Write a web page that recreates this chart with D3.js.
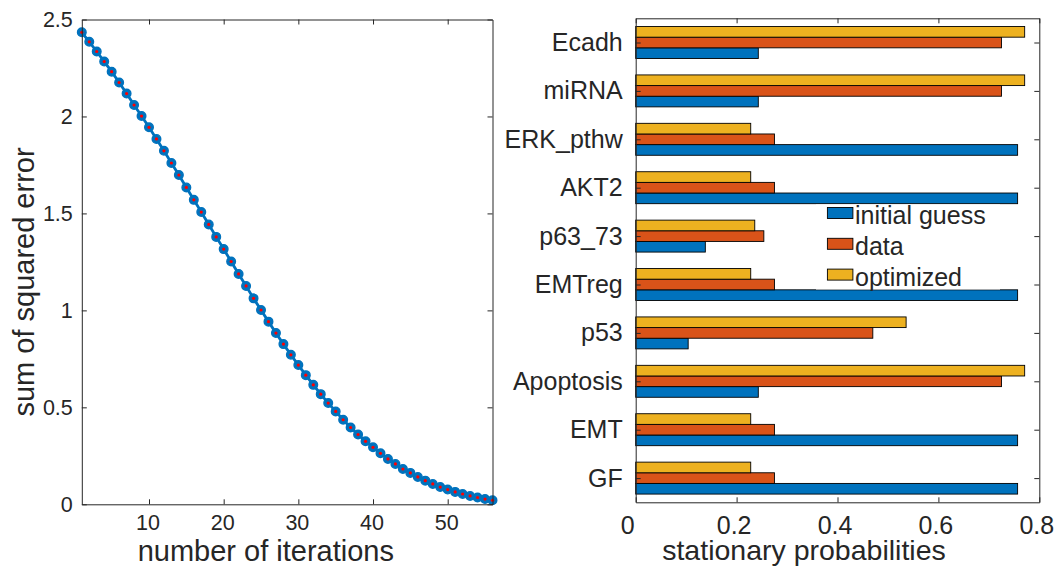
<!DOCTYPE html>
<html><head><meta charset="utf-8">
<script src="https://cdn.jsdelivr.net/npm/d3@7"></script>
<style>
body{margin:0;background:#fff}
svg{display:block}
text{font-family:"Liberation Sans",Arial,Helvetica,sans-serif;fill:#262626}
</style>
</head><body>
<svg id="c" width="1056" height="566"></svg>
<script>
// ---- Data ----
const sqError = [2.434,2.385,2.335,2.283,2.231,2.175,2.118,2.059,2.002,1.944,
  1.884,1.823,1.760,1.698,1.634,1.570,1.507,1.443,1.379,1.316,
  1.252,1.188,1.126,1.062,1.002,0.942,0.883,0.826,0.771,0.718,
  0.666,0.616,0.568,0.522,0.479,0.436,0.396,0.360,0.325,0.294,
  0.263,0.234,0.208,0.182,0.162,0.141,0.122,0.105,0.089,0.076,
  0.064,0.053,0.043,0.035,0.027,0.021];
const iterTicks = [10,20,30,40,50];
const errTicks = [0,0.5,1,1.5,2,2.5];
const categories = ["GF","EMT","Apoptosis","p53","EMTreg","p63_73","AKT2","ERK_pthw","miRNA","Ecadh"];
const initialGuess = [0.757,0.757,0.243,0.104,0.757,0.138,0.757,0.757,0.243,0.243];
const dataVals     = [0.275,0.275,0.725,0.470,0.275,0.254,0.275,0.275,0.725,0.725];
const optimized    = [0.228,0.228,0.771,0.536,0.228,0.236,0.228,0.228,0.771,0.771];
const seriesNames = ["initial guess","data","optimized"];
const probTicks = [0,0.2,0.4,0.6,0.8];

const colors = ["#0072BD","#D95319","#EDB120"];
const axisColor = "#262626";
const svg = d3.select("#c");

function styleAxis(g){
  g.selectAll("path.domain").attr("stroke",axisColor).attr("stroke-width",1);
  g.selectAll(".tick line").attr("stroke",axisColor).attr("stroke-width",1);
  g.selectAll("text").attr("fill",axisColor).style("font-family",'"Liberation Sans",Arial,sans-serif');
}

// ---- Left plot ----
const L = {l:81.8, r:492.5, t:19.5, b:504.3};
const xL = d3.scaleLinear().domain([1,56]).range([L.l,L.r]);
const yL = d3.scaleLinear().domain([0,2.5]).range([L.b,L.t]);
const errPts = sqError.map((v,i)=>({it:i+1, v}));

const gL = svg.append("g");
gL.append("path").datum(errPts)
  .attr("fill","none").attr("stroke",colors[0]).attr("stroke-width",2.8)
  .attr("d", d3.line().x(d=>xL(d.it)).y(d=>yL(d.v)));
gL.selectAll("circle.m").data(errPts).join("circle").attr("class","m")
  .attr("cx",d=>xL(d.it)).attr("cy",d=>yL(d.v)).attr("r",4.3)
  .attr("fill",colors[0]).attr("stroke",colors[0]).attr("stroke-width",1.4);
gL.selectAll("circle.d").data(errPts).join("circle").attr("class","d")
  .attr("cx",d=>xL(d.it)).attr("cy",d=>yL(d.v)).attr("r",1.6)
  .attr("fill","#FF0000");

// axes
const axB = gL.append("g").attr("transform",`translate(0,${L.b})`)
  .call(d3.axisBottom(xL).tickValues(iterTicks).tickSizeInner(-5).tickSizeOuter(0).tickPadding(10.5).tickFormat(d3.format("d")));
axB.selectAll("text").style("font-size","21.5px").attr("dx",-1.5);
styleAxis(axB);
const axT = gL.append("g").attr("transform",`translate(0,${L.t})`)
  .call(d3.axisTop(xL).tickValues(iterTicks).tickSizeInner(-5).tickSizeOuter(0).tickFormat(""));
styleAxis(axT);
const axLf = gL.append("g").attr("transform",`translate(${L.l},0)`)
  .call(d3.axisLeft(yL).tickValues(errTicks).tickSizeInner(-5).tickSizeOuter(0).tickPadding(9).tickFormat(d=>String(d)));
axLf.selectAll("text").style("font-size","21.5px");
styleAxis(axLf);
const axRt = gL.append("g").attr("transform",`translate(${L.r},0)`)
  .call(d3.axisRight(yL).tickValues(errTicks).tickSizeInner(-5).tickSizeOuter(0).tickFormat(""));
styleAxis(axRt);

gL.append("text").attr("x",265.8).attr("y",561).attr("text-anchor","middle")
  .style("font-size","29px").text("number of iterations");
gL.append("text").attr("transform","translate(34,282) rotate(-90)").attr("text-anchor","middle")
  .style("font-size","29px").text("sum of squared error");

// ---- Right plot ----
const R = {l:635.7, r:1039.3, t:18.3, b:502.3};
const xR = d3.scaleLinear().domain([0,0.8]).range([R.l,R.r]);
const yR = d3.scaleLinear().domain([0.5,10.5]).range([R.b,R.t]);
const series = [initialGuess, dataVals, optimized];
const barW = 0.22;
const gR = svg.append("g");
series.forEach((vals,s)=>{
  const off = (s-1)*barW;
  gR.selectAll(`rect.s${s}`).data(vals).join("rect").attr("class",`s${s}`)
    .attr("x",xR(0))
    .attr("y",(v,i)=>yR(i+1+off+barW/2))
    .attr("width",v=>xR(v)-xR(0))
    .attr("height",(v,i)=>yR(i+1+off-barW/2)-yR(i+1+off+barW/2))
    .attr("fill",colors[s]).attr("stroke","#000").attr("stroke-width",0.9);
});

const rB = gR.append("g").attr("transform",`translate(0,${R.b})`)
  .call(d3.axisBottom(xR).tickValues(probTicks).tickSizeInner(-5).tickSizeOuter(0).tickPadding(14.3).tickFormat(d=>String(d)));
rB.selectAll("text").style("font-size","25px").attr("dx",d=>d===0?-8.5:-3);
styleAxis(rB);
const rT = gR.append("g").attr("transform",`translate(0,${R.t})`)
  .call(d3.axisTop(xR).tickValues(probTicks).tickSizeInner(-5).tickSizeOuter(0).tickFormat(""));
styleAxis(rT);
const catPos = categories.map((c,i)=>i+1);
const rL = gR.append("g").attr("transform",`translate(${R.l},0)`)
  .call(d3.axisLeft(yR).tickValues(catPos).tickSizeInner(-5).tickSizeOuter(0).tickPadding(13).tickFormat(p=>categories[p-1]));
rL.selectAll("text").style("font-size","25px");
styleAxis(rL);
const rR = gR.append("g").attr("transform",`translate(${R.r},0)`)
  .call(d3.axisRight(yR).tickValues(catPos).tickSizeInner(-5).tickSizeOuter(0).tickFormat(""));
styleAxis(rR);

gR.append("text").attr("x",804).attr("y",560).attr("text-anchor","middle")
  .style("font-size","28.5px").text("stationary probabilities");

// legend
const lg = gR.append("g");
lg.append("rect").attr("x",816).attr("y",204.5).attr("width",184).attr("height",85).attr("fill","#fff");
const rowY = [213, 243.8, 274.6];
seriesNames.forEach((n,s)=>{
  lg.append("rect").attr("x",827.4).attr("y",rowY[s]-5.5).attr("width",25.5).attr("height",11)
    .attr("fill",colors[s]).attr("stroke","#000").attr("stroke-width",0.9);
  lg.append("text").attr("x",855).attr("y",rowY[s]+11.3).style("font-size","25px").attr("fill","#000").text(n);
});
</script>
</body></html>
